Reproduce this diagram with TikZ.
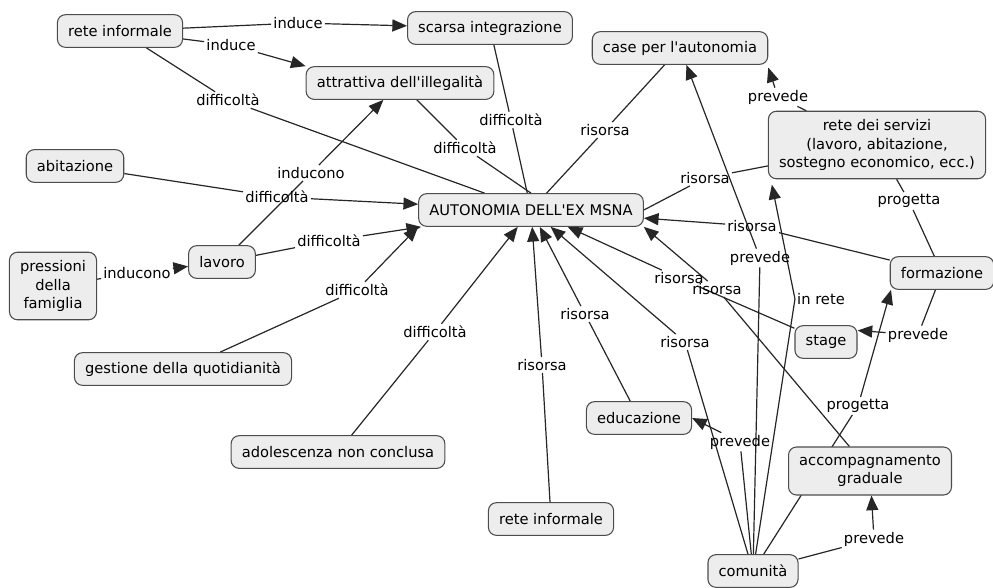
\documentclass[tikz,border=0pt]{standalone}
\usepackage{fontspec}
\setmainfont{DejaVu Sans}
\usetikzlibrary{arrows.meta,backgrounds}

\begin{document}
\begin{tikzpicture}[x=0.75pt,y=-0.75pt,
  concept/.style={rectangle,draw=black!70,line width=0.8pt,fill=black!7,rounded corners=6pt,minimum height=24.5pt,inner xsep=8pt,inner ysep=6pt,align=center,font=\fontsize{11}{14}\selectfont},
  lbl/.style={inner sep=1.5pt,font=\fontsize{11}{14}\selectfont},
  link/.style={draw=black!85,line width=0.9pt},
  arr/.style={link,-{Triangle[length=11pt,width=9pt]}}]
\useasboundingbox (0,0) rectangle (993,587);

% concepts
\node[concept] (ri1) at (120,31) {rete informale};
\node[concept] (scarsa) at (490,28) {scarsa integrazione};
\node[concept] (attr) at (400,83) {attrattiva dell\textquotesingle illegalità};
\node[concept] (caseaut) at (680,48) {case per l\textquotesingle autonomia};
\node[concept] (serv) at (877,145) {rete dei servizi\\(lavoro, abitazione,\\sostegno economico, ecc.)};
\node[concept] (abit) at (75,166) {abitazione};
\node[concept] (auto) at (531,210) {AUTONOMIA DELL\textquotesingle EX MSNA};
\node[concept] (lav) at (222,262) {lavoro};
\node[concept] (press) at (53,286) {pressioni\\della\\famiglia};
\node[concept] (form) at (942,273) {formazione};
\node[concept] (gest) at (183,369) {gestione della quotidianità};
\node[concept] (stage) at (826,342) {stage};
\node[concept] (edu) at (639,418) {educazione};
\node[concept] (adol) at (338,452) {adolescenza non conclusa};
\node[concept] (accomp) at (870,471) {accompagnamento\\graduale};
\node[concept] (ri2) at (551,519) {rete informale};
\node[concept] (com) at (753,571) {comunità};

% linking phrases
\node[lbl] (l1) at (298,23) {induce};
\node[lbl] (l2) at (231,45) {induce};
\node[lbl] (l3) at (228,100) {difficoltà};
\node[lbl] (l4) at (511,120) {difficoltà};
\node[lbl] (l5) at (465,148) {difficoltà};
\node[lbl] (l6) at (605,130) {risorsa};
\node[lbl] (l7) at (778,97) {prevede};
\node[lbl] (l8) at (705,178) {risorsa};
\node[lbl] (l9) at (277,197) {difficoltà};
\node[lbl] (l10) at (311,173) {inducono};
\node[lbl] (l11) at (329,241) {difficoltà};
\node[lbl] (l12) at (137,273) {inducono};
\node[lbl] (l13) at (357,290) {difficoltà};
\node[lbl] (l14) at (435,332) {difficoltà};
\node[lbl] (l15) at (542,365) {risorsa};
\node[lbl] (l16) at (585,314) {risorsa};
\node[lbl] (l17) at (685,342) {risorsa};
\node[lbl] (l18) at (679,278) {risorsa};
\node[lbl] (l19) at (717,289) {risorsa};
\node[lbl] (l20) at (752,226) {risorsa};
\node[lbl] (l21) at (760,258) {prevede};
\node[lbl] (l22) at (821,299) {in rete};
\node[lbl] (l23) at (909,201) {progetta};
\node[lbl] (l24) at (918,335) {prevede};
\node[lbl] (l25) at (858,406) {progetta};
\node[lbl] (l26) at (740,442) {prevede};
\node[lbl] (l27) at (874,539) {prevede};

% connections, behind the boxes
\begin{scope}[on background layer]
\draw[link] (ri1) -- (l1); \draw[arr] (l1) -- (scarsa);
\draw[link] (ri1) -- (l2); \draw[arr] (l2) -- (attr.north west);
\draw[link] (ri1) -- (l3); \draw[link] (l3) -- (auto);
\draw[link] (scarsa) -- (l4); \draw[link] (l4) -- (auto);
\draw[link] (attr) -- (l5); \draw[link] (l5) -- (auto.north);
\draw[link] (auto) -- (l6); \draw[link] (l6) -- (caseaut);
\draw[link] (serv) -- (l7); \draw[arr] (l7) -- ([yshift=-2pt]caseaut.south east);
\draw[link] (serv) -- (l8); \draw[link] (l8) -- (auto.east);
\draw[link] (abit) -- (l9); \draw[arr] (l9) -- (auto);
\draw[link] (lav) -- (l10); \draw[arr] (l10) -- (attr);
\draw[link] (lav) -- (l11); \draw[arr] (l11) -- (auto);
\draw[link] (press) -- (l12); \draw[arr] (l12) -- (lav);
\draw[link] (gest) -- (l13); \draw[arr] (l13) -- (auto.south west);
\draw[link] (adol) -- (l14); \draw[arr] (l14) -- (auto);
\draw[link] (ri2) -- (l15); \draw[arr] (l15) -- (auto);
\draw[link] (edu) -- (l16); \draw[arr] (l16) -- (auto);
\draw[link] (com) -- (l17); \draw[arr] (l17) -- (auto);
\draw[link] (stage) -- (l18); \draw[arr] (l18) -- (auto);
\draw[link] (accomp) -- (l19); \draw[arr] (l19) -- (auto.south east);
\draw[link] (form) -- (l20); \draw[arr] (l20) -- (auto);
\draw[link] (com) -- (l21); \draw[arr] (l21) -- (caseaut);
\draw[link] (com) -- (l22.west); \draw[arr] (l22.west) -- ([xshift=3pt,yshift=-4pt]serv.south west);
\draw[link] (form) -- (l23); \draw[link] (l23) -- (serv);
\draw[link] (form) -- (l24); \draw[arr] (l24) -- ([yshift=-4pt]stage.north east);
\draw[link] (com) -- (l25); \draw[arr] (l25) -- ([xshift=1pt]form.south west);
\draw[link] (com) -- (l26); \draw[arr] (l26) -- (edu.east);
\draw[link] (com) -- (l27); \draw[arr] (l27) -- (accomp);
\end{scope}
\end{tikzpicture}
\end{document}
